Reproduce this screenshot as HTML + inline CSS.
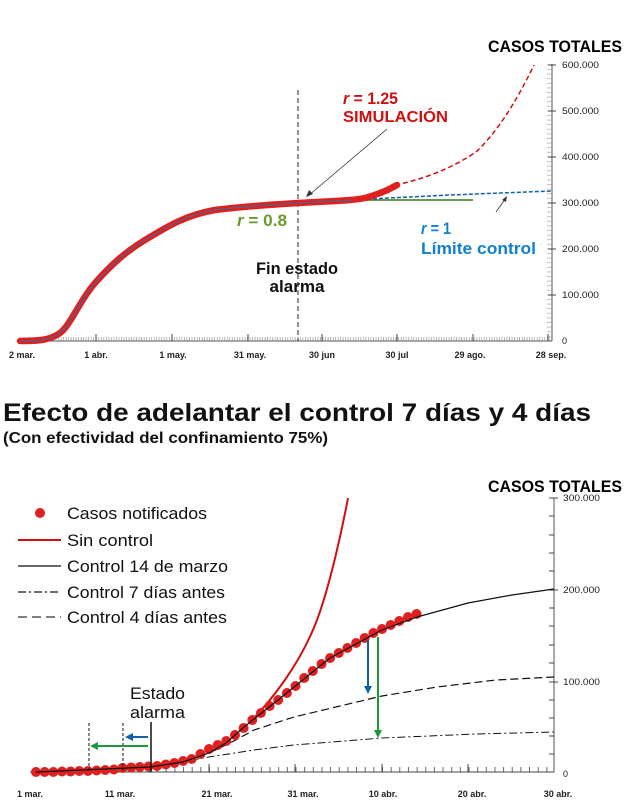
<!DOCTYPE html>
<html><head><meta charset="utf-8"><style>
html,body{margin:0;padding:0;background:#fff;}
svg{display:block;font-family:"Liberation Sans",sans-serif;font-weight:bold;}
</style></head><body>
<svg width="624" height="805" viewBox="0 0 624 805" xmlns="http://www.w3.org/2000/svg">
<defs>
<pattern id="mt" width="2.52" height="4" patternUnits="userSpaceOnUse"><line x1="0.5" y1="0" x2="0.5" y2="4" stroke="#888" stroke-width="0.6"/></pattern>
<pattern id="my" width="5" height="4.6" patternUnits="userSpaceOnUse"><line x1="0" y1="0.5" x2="5" y2="0.5" stroke="#999" stroke-width="0.6"/></pattern>
<pattern id="mb" width="8.65" height="5" patternUnits="userSpaceOnUse" x="36"><line x1="0.5" y1="0" x2="0.5" y2="5" stroke="#444" stroke-width="0.8"/></pattern>
</defs>
<!-- TOP CHART -->
<text x="488" y="52" font-size="17" textLength="134" lengthAdjust="spacingAndGlyphs">CASOS TOTALES</text>
<line x1="552" y1="64" x2="552" y2="341" stroke="#555" stroke-width="1"/>
<rect x="547" y="64" width="5" height="277" fill="url(#my)"/>
<line x1="18" y1="341" x2="552" y2="341" stroke="#555" stroke-width="1"/>
<rect x="20" y="337" width="532" height="4" fill="url(#mt)"/>
<g stroke="#444" stroke-width="1">
<line x1="96" y1="334" x2="96" y2="341"/><line x1="172" y1="334" x2="172" y2="341"/><line x1="248" y1="334" x2="248" y2="341"/><line x1="322" y1="334" x2="322" y2="341"/><line x1="397" y1="334" x2="397" y2="341"/><line x1="473" y1="334" x2="473" y2="341"/><line x1="548" y1="334" x2="548" y2="341"/>
<line x1="548" y1="65" x2="556" y2="65"/><line x1="548" y1="111" x2="556" y2="111"/><line x1="548" y1="157" x2="556" y2="157"/><line x1="548" y1="203" x2="556" y2="203"/><line x1="548" y1="249" x2="556" y2="249"/><line x1="548" y1="295" x2="556" y2="295"/>
</g>
<g font-size="9" fill="#222" font-weight="normal">
<text x="562" y="68" textLength="37" lengthAdjust="spacingAndGlyphs">600.000</text>
<text x="562" y="114" textLength="37" lengthAdjust="spacingAndGlyphs">500.000</text>
<text x="562" y="160" textLength="37" lengthAdjust="spacingAndGlyphs">400.000</text>
<text x="562" y="206" textLength="37" lengthAdjust="spacingAndGlyphs">300.000</text>
<text x="562" y="252" textLength="37" lengthAdjust="spacingAndGlyphs">200.000</text>
<text x="562" y="298" textLength="37" lengthAdjust="spacingAndGlyphs">100.000</text>
<text x="562" y="344">0</text>
</g>
<g font-size="9" fill="#222" text-anchor="middle">
<text x="22" y="358">2 mar.</text><text x="96" y="358">1 abr.</text><text x="173" y="358">1 may.</text><text x="250" y="358">31 may.</text><text x="322" y="358">30 jun</text><text x="397" y="358">30 jul</text><text x="470" y="358">29 ago.</text><text x="551" y="358">28 sep.</text>
</g>
<line x1="298" y1="90" x2="298" y2="341" stroke="#222" stroke-width="1" stroke-dasharray="5,3"/>
<polyline points="349,200 473,200" fill="none" stroke="#3a7a1a" stroke-width="1.5"/>
<polyline points="349,200 450,195 552,191" fill="none" stroke="#1060b0" stroke-width="1.5" stroke-dasharray="4,2"/>
<path d="M395,185 Q440,176 476,152 Q505,125 534,65" fill="none" stroke="#d01010" stroke-width="1.5" stroke-dasharray="5,3"/>
<path id="tc" d="M20,341 C40,341 50,340 60,333 C70,326 80,300 95,283 C110,266 125,252 145,240 C165,228 185,215 215,210 C245,206 270,205 298,203 C330,201 350,201 365,198 C380,194 390,189 397,185" fill="none" stroke="#e02020" stroke-width="6.5" stroke-linejoin="round" stroke-linecap="round"/>
<path d="M20,341 C40,341 50,340 60,333 C70,326 80,300 95,283 C110,266 125,252 145,240 C165,228 185,215 215,210 C245,206 270,205 298,203 C330,201 345,201 352,200" fill="none" stroke="#3070a0" stroke-width="1"/>
<text x="343" y="104" font-size="17" fill="#d01010" textLength="55" lengthAdjust="spacingAndGlyphs"><tspan font-style="italic">r</tspan> = 1.25</text>
<text x="343" y="122" font-size="16" fill="#d01010" textLength="105" lengthAdjust="spacingAndGlyphs">SIMULACIÓN</text>
<line x1="387" y1="129" x2="308" y2="196" stroke="#333" stroke-width="0.8"/>
<path d="M306,197 L309,190 L313,194 Z" fill="#333"/>
<text x="237" y="226" font-size="17" fill="#6a9a2a" textLength="50" lengthAdjust="spacingAndGlyphs"><tspan font-style="italic">r</tspan> = 0.8</text>
<text x="421" y="234" font-size="17" fill="#1080d0" textLength="30" lengthAdjust="spacingAndGlyphs"><tspan font-style="italic">r</tspan> = 1</text>
<text x="421" y="254" font-size="17" fill="#1080d0" textLength="115" lengthAdjust="spacingAndGlyphs">Límite control</text>
<line x1="496" y1="212" x2="506" y2="198" stroke="#333" stroke-width="0.8"/>
<path d="M507,196 L502,200 L506,202 Z" fill="#333"/>
<text x="297" y="274" font-size="17" fill="#111" text-anchor="middle" textLength="82" lengthAdjust="spacingAndGlyphs">Fin estado</text>
<text x="297" y="292" font-size="17" fill="#111" text-anchor="middle" textLength="55" lengthAdjust="spacingAndGlyphs">alarma</text>
<!-- TITLE -->
<text x="3" y="421" font-size="25" fill="#111" textLength="588" lengthAdjust="spacingAndGlyphs">Efecto de adelantar el control 7 días y 4 días</text>
<text x="3" y="443" font-size="16" fill="#111" textLength="325" lengthAdjust="spacingAndGlyphs">(Con efectividad del confinamiento 75%)</text>
<!-- BOTTOM CHART -->
<text x="488" y="492" font-size="17" textLength="134" lengthAdjust="spacingAndGlyphs">CASOS TOTALES</text>
<line x1="554" y1="498" x2="554" y2="772" stroke="#555" stroke-width="1"/>
<line x1="30" y1="772" x2="554" y2="772" stroke="#444" stroke-width="1"/>
<rect x="36" y="767" width="518" height="5" fill="url(#mb)"/>
<g stroke="#444" stroke-width="1">
<line x1="123" y1="764" x2="123" y2="772"/><line x1="209" y1="764" x2="209" y2="772"/><line x1="295" y1="764" x2="295" y2="772"/><line x1="382" y1="764" x2="382" y2="772"/><line x1="468" y1="764" x2="468" y2="772"/>
<line x1="549" y1="498" x2="558" y2="498"/><line x1="549" y1="516" x2="554" y2="516"/><line x1="549" y1="535" x2="554" y2="535"/><line x1="549" y1="553" x2="554" y2="553"/><line x1="549" y1="571" x2="554" y2="571"/><line x1="549" y1="590" x2="558" y2="590"/><line x1="549" y1="608" x2="554" y2="608"/><line x1="549" y1="626" x2="554" y2="626"/><line x1="549" y1="645" x2="554" y2="645"/><line x1="549" y1="663" x2="554" y2="663"/><line x1="549" y1="682" x2="558" y2="682"/><line x1="549" y1="700" x2="554" y2="700"/><line x1="549" y1="718" x2="554" y2="718"/><line x1="549" y1="736" x2="554" y2="736"/><line x1="549" y1="754" x2="554" y2="754"/>
</g>
<g font-size="9" fill="#222" font-weight="normal">
<text x="563" y="501" textLength="37" lengthAdjust="spacingAndGlyphs">300.000</text>
<text x="563" y="593" textLength="37" lengthAdjust="spacingAndGlyphs">200.000</text>
<text x="563" y="685" textLength="37" lengthAdjust="spacingAndGlyphs">100.000</text>
<text x="563" y="777">0</text>
</g>
<g font-size="9" fill="#222" text-anchor="middle">
<text x="30" y="797">1 mar.</text><text x="120" y="797">11 mar.</text><text x="217" y="797">21 mar.</text><text x="303" y="797">31 mar.</text><text x="383" y="797">10 abr.</text><text x="472" y="797">20 abr.</text><text x="558" y="797">30 abr.</text>
</g>
<!-- legend -->
<circle cx="40" cy="513" r="5" fill="#e02020"/>
<line x1="18" y1="540" x2="61" y2="540" stroke="#d01010" stroke-width="2"/>
<line x1="18" y1="566" x2="61" y2="566" stroke="#111" stroke-width="1.2"/>
<line x1="18" y1="592" x2="61" y2="592" stroke="#111" stroke-width="1.2" stroke-dasharray="8,3,2,3"/>
<line x1="18" y1="617" x2="61" y2="617" stroke="#333" stroke-width="1.2" stroke-dasharray="9,5"/>
<g font-size="17" fill="#111" font-weight="normal">
<text x="67" y="519" textLength="140" lengthAdjust="spacingAndGlyphs">Casos notificados</text>
<text x="67" y="546" textLength="86" lengthAdjust="spacingAndGlyphs">Sin control</text>
<text x="67" y="572" textLength="161" lengthAdjust="spacingAndGlyphs">Control 14 de marzo</text>
<text x="67" y="598" textLength="158" lengthAdjust="spacingAndGlyphs">Control 7 días antes</text>
<text x="67" y="623" textLength="160" lengthAdjust="spacingAndGlyphs">Control 4 días antes</text>
</g>
<!-- lines -->
<polyline points="175,763 209,753 230,743 254,730 294,717 382,696 437,687 496,680 554,677" fill="none" stroke="#111" stroke-width="1.2" stroke-dasharray="8,4"/>
<polyline points="175,763 209,757 254,750 294,745 382,738 476,734 554,732" fill="none" stroke="#111" stroke-width="1" stroke-dasharray="8,3,2,3"/>
<path d="M250,722 C270,702 300,665 317,620 C330,585 342,530 348,498" fill="none" stroke="#d01010" stroke-width="2"/>
<!-- dots -->
<g fill="#e02020">
<circle cx="36" cy="772" r="5"/><circle cx="44.7" cy="772" r="5"/><circle cx="53.3" cy="772" r="5"/><circle cx="62" cy="771.5" r="5"/><circle cx="70.6" cy="771.5" r="5"/><circle cx="79.3" cy="771" r="5"/><circle cx="87.9" cy="771" r="5"/><circle cx="96.6" cy="770.5" r="5"/><circle cx="105.2" cy="770" r="5"/><circle cx="113.9" cy="769.5" r="5"/><circle cx="122.5" cy="768" r="5"/><circle cx="131.2" cy="767.5" r="5"/><circle cx="139.8" cy="767" r="5"/><circle cx="148.5" cy="766.5" r="5"/><circle cx="157.1" cy="766" r="5"/><circle cx="165.8" cy="764.5" r="5"/><circle cx="174.4" cy="763" r="5"/><circle cx="183.1" cy="761" r="5"/><circle cx="191.7" cy="759" r="5"/><circle cx="200.4" cy="754" r="5"/><circle cx="209" cy="749" r="5"/><circle cx="217.7" cy="745" r="5"/><circle cx="226.3" cy="741" r="5"/><circle cx="235" cy="735" r="5"/><circle cx="243.6" cy="728" r="5"/><circle cx="252.3" cy="720" r="5"/><circle cx="260.9" cy="713" r="5"/><circle cx="269.6" cy="706" r="5"/><circle cx="278.2" cy="700" r="5"/><circle cx="286.9" cy="693" r="5"/><circle cx="295.5" cy="686" r="5"/><circle cx="304.2" cy="678" r="5"/><circle cx="312.8" cy="671" r="5"/><circle cx="321.5" cy="664" r="5"/><circle cx="330.1" cy="658" r="5"/><circle cx="338.8" cy="653" r="5"/><circle cx="347.4" cy="648" r="5"/><circle cx="356.1" cy="643" r="5"/><circle cx="364.7" cy="638" r="5"/><circle cx="373.4" cy="633" r="5"/><circle cx="382" cy="629" r="5"/><circle cx="390.7" cy="625" r="5"/><circle cx="399.3" cy="621" r="5"/><circle cx="408" cy="617" r="5"/><circle cx="416.6" cy="614" r="5"/>
</g>
<polyline points="36,772 150,767 183,762 209,753 226,743 244,727 278,700 330,658 382,630 417,617 468,603 512,595 554,589" fill="none" stroke="#111" stroke-width="1.2"/>
<!-- markers -->
<line x1="89" y1="723" x2="89" y2="772" stroke="#111" stroke-width="1" stroke-dasharray="3,2"/>
<line x1="123" y1="723" x2="123" y2="772" stroke="#111" stroke-width="1" stroke-dasharray="3,2"/>
<line x1="151" y1="722" x2="151" y2="772" stroke="#111" stroke-width="1.5"/>
<line x1="148" y1="737" x2="131" y2="737" stroke="#1060b0" stroke-width="2"/>
<path d="M125,737 L133,733 L133,741 Z" fill="#1060b0"/>
<line x1="148" y1="746" x2="96" y2="746" stroke="#1a9a3a" stroke-width="2"/>
<path d="M90,746 L98,742 L98,750 Z" fill="#1a9a3a"/>
<line x1="368" y1="640" x2="368" y2="688" stroke="#1060b0" stroke-width="2"/>
<path d="M368,694 L364,686 L372,686 Z" fill="#1060b0"/>
<line x1="378" y1="637" x2="378" y2="732" stroke="#1a9a3a" stroke-width="2"/>
<path d="M378,738 L374,730 L382,730 Z" fill="#1a9a3a"/>
<text x="130" y="699" font-size="17" fill="#111" font-weight="normal" textLength="55" lengthAdjust="spacingAndGlyphs">Estado</text>
<text x="130" y="718" font-size="17" fill="#111" font-weight="normal" textLength="55" lengthAdjust="spacingAndGlyphs">alarma</text>
</svg>
</body></html>
